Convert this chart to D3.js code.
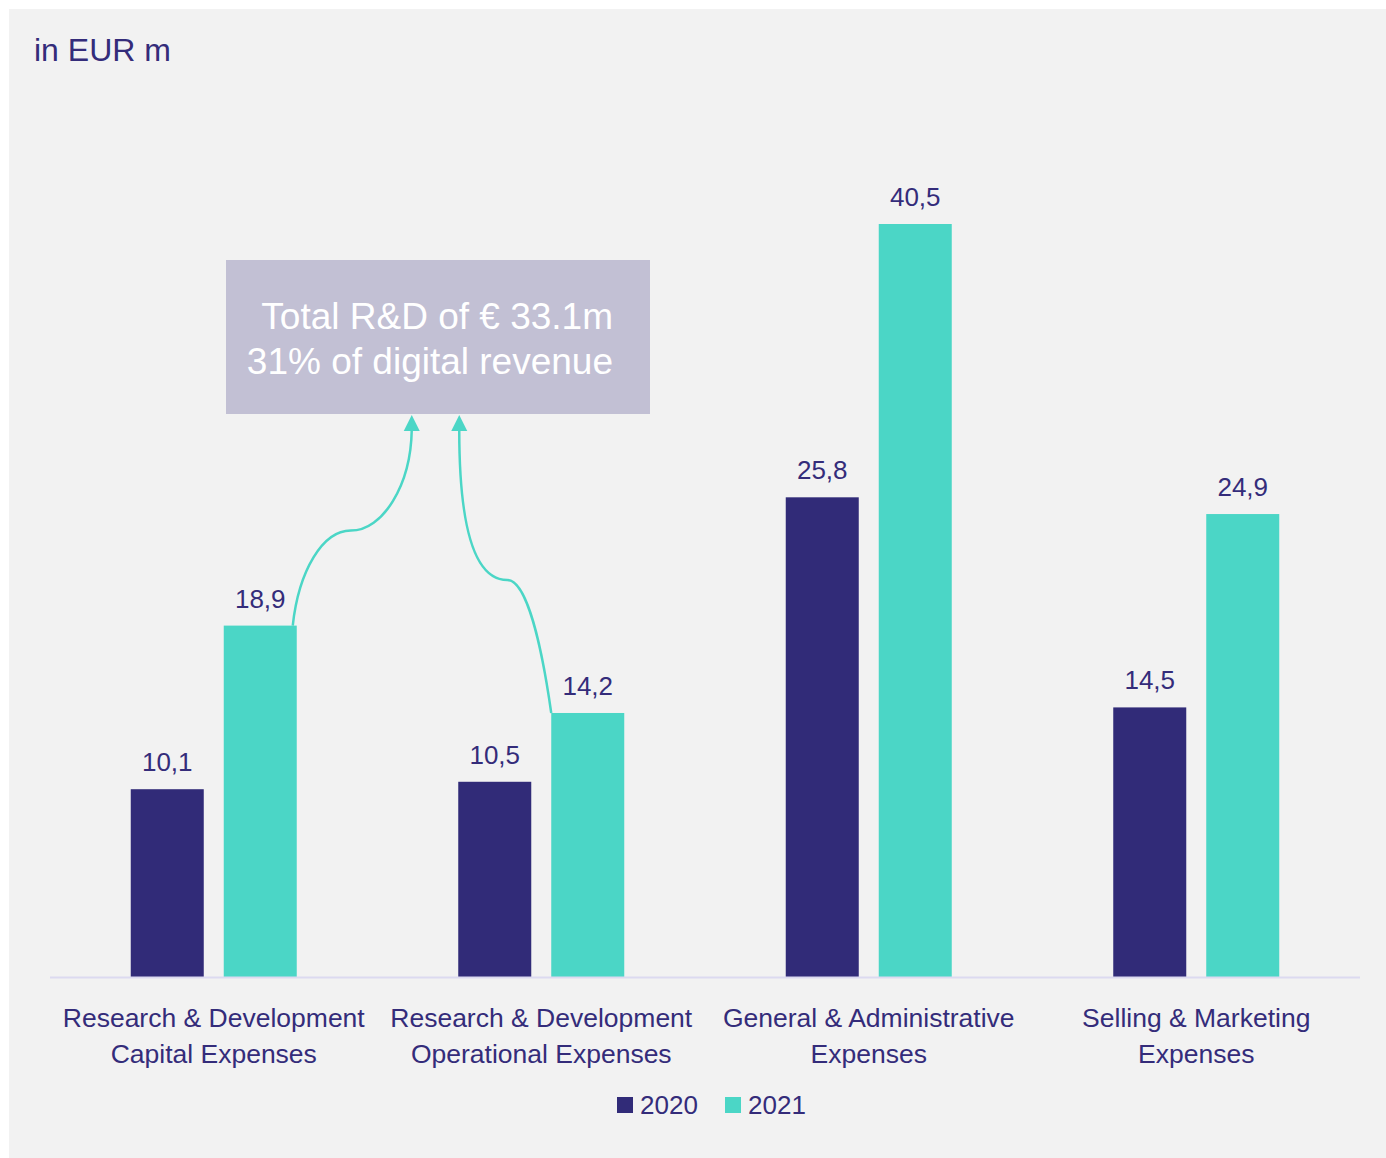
<!DOCTYPE html>
<html>
<head>
<meta charset="utf-8">
<script src="https://cdn.jsdelivr.net/npm/d3@7"></script>
<style>
  body { margin: 0; background: #fff; }
  svg { display: block; font-family: Arial, "Liberation Sans", sans-serif; }
</style>
</head>
<body>
<svg width="1386" height="1158"></svg>
<script>
var categories = [
  ["Research & Development", "Capital Expenses"],
  ["Research & Development", "Operational Expenses"],
  ["General & Administrative", "Expenses"],
  ["Selling & Marketing", "Expenses"]
];
var years = ["2020", "2021"];
var values2020 = [10.1, 10.5, 25.8, 14.5];
var values2021 = [18.9, 14.2, 40.5, 24.9];
var calloutLines = ["Total R&D of \u20ac 33.1m", "31% of digital revenue"];

var navy = "#312b78", teal = "#4bd6c6", textColor = "#342c7a";

var svg = d3.select("svg");

svg.append("rect")
    .attr("x", 9).attr("y", 9)
    .attr("width", 1377).attr("height", 1149)
    .attr("fill", "#f2f2f2");

svg.append("text")
    .attr("x", 34).attr("y", 61)
    .attr("font-size", 32)
    .attr("fill", textColor)
    .text("in EUR m");

var data = categories.map(function(c, i) {
  return {key: i, label: c, vals: [values2020[i], values2021[i]]};
});

var x0 = d3.scaleBand()
    .domain(data.map(function(d) { return d.key; }))
    .range([50, 1360]);

var x1 = d3.scaleBand()
    .domain(years)
    .range([x0.bandwidth() / 2 - 83, x0.bandwidth() / 2 + 83])
    .paddingInner(0.215);

var y = d3.scaleLinear()
    .domain([0, 40.5])
    .range([977, 224]);

var colors = d3.scaleOrdinal().domain(years).range([navy, teal]);

var groups = svg.selectAll(".group")
    .data(data)
  .enter().append("g")
    .attr("class", "group")
    .attr("transform", function(d) { return "translate(" + x0(d.key) + ",0)"; });

var bars = groups.selectAll(".bar")
    .data(function(d) { return years.map(function(yr, j) { return {year: yr, value: d.vals[j]}; }); })
  .enter();

bars.append("rect")
    .attr("class", "bar")
    .attr("x", function(d) { return x1(d.year); })
    .attr("y", function(d) { return y(d.value); })
    .attr("width", x1.bandwidth())
    .attr("height", function(d) { return y(0) - y(d.value); })
    .attr("fill", function(d) { return colors(d.year); });

bars.append("text")
    .attr("x", function(d) { return x1(d.year) + x1.bandwidth() / 2; })
    .attr("y", function(d) { return y(d.value) - 18; })
    .attr("text-anchor", "middle")
    .attr("font-size", 26)
    .attr("fill", textColor)
    .text(function(d) { return d3.format(".1f")(d.value).replace(".", ","); });

// baseline
svg.append("line")
    .attr("x1", 50).attr("x2", 1360)
    .attr("y1", y(0) + 0.5).attr("y2", y(0) + 0.5)
    .attr("stroke", "#dcdaf0")
    .attr("stroke-width", 2);

// category labels
groups.append("text")
    .attr("text-anchor", "middle")
    .attr("font-size", 26.5)
    .attr("fill", textColor)
    .selectAll("tspan")
    .data(function(d) { return d.label; })
  .enter().append("tspan")
    .attr("x", x0.bandwidth() / 2)
    .attr("y", function(d, i) { return 1027 + i * 36; })
    .text(function(d) { return d; });

// legend
var legend = svg.append("g").attr("transform", "translate(617,1097)");
var legendItems = legend.selectAll("g")
    .data(years)
  .enter().append("g")
    .attr("transform", function(d, i) { return "translate(" + i * 108 + ",0)"; });
legendItems.append("rect")
    .attr("width", 16).attr("height", 16)
    .attr("fill", function(d) { return colors(d); });
legendItems.append("text")
    .attr("x", 23).attr("y", 17)
    .attr("font-size", 26)
    .attr("fill", textColor)
    .text(function(d) { return d; });

// callout box
var box = {x: 226, y: 260, w: 424, h: 154};
svg.append("rect")
    .attr("x", box.x).attr("y", box.y)
    .attr("width", box.w).attr("height", box.h)
    .attr("fill", "#c2c0d4");

svg.append("text")
    .attr("text-anchor", "end")
    .attr("font-size", 37)
    .attr("fill", "#ffffff")
    .selectAll("tspan")
    .data(calloutLines)
  .enter().append("tspan")
    .attr("x", box.x + box.w - 37)
    .attr("y", function(d, i) { return 329 + i * 45; })
    .text(function(d) { return d; });

// arrows from the R&D bars up to the box
var tipY = box.y + box.h + 16;
var s1x = x0(0) + x1("2021") + x1.bandwidth() - 4, s1y = y(values2021[0]);
var s2x = x0(1) + x1("2021"), s2y = y(values2021[1]);

var p1 = d3.path();
p1.moveTo(s1x, s1y);
p1.bezierCurveTo(s1x + 6, s1y - 55, s1x + 30, s1y - 95, s1x + 58, s1y - 95);
p1.bezierCurveTo(s1x + 90, s1y - 95, s1x + 118, s1y - 140, s1x + 119, tipY);

var p2 = d3.path();
p2.moveTo(s2x, s2y);
p2.bezierCurveTo(s2x - 10, s2y - 70, s2x - 25, s2y - 133, s2x - 44, s2y - 133);
p2.bezierCurveTo(s2x - 88, s2y - 133, s2x - 92, s2y - 230, s2x - 92, tipY);

var tips = [s1x + 119, s2x - 92];

svg.selectAll(".arrow")
    .data([p1.toString(), p2.toString()])
  .enter().append("path")
    .attr("class", "arrow")
    .attr("d", function(d) { return d; })
    .attr("fill", "none")
    .attr("stroke", teal)
    .attr("stroke-width", 2.5);

svg.selectAll(".arrowhead")
    .data(tips)
  .enter().append("path")
    .attr("class", "arrowhead")
    .attr("d", function(t) {
      return "M" + t + "," + (box.y + box.h + 1) + "L" + (t - 8) + "," + (tipY + 1) + "L" + (t + 8) + "," + (tipY + 1) + "Z";
    })
    .attr("fill", teal);
</script>
</body>
</html>
